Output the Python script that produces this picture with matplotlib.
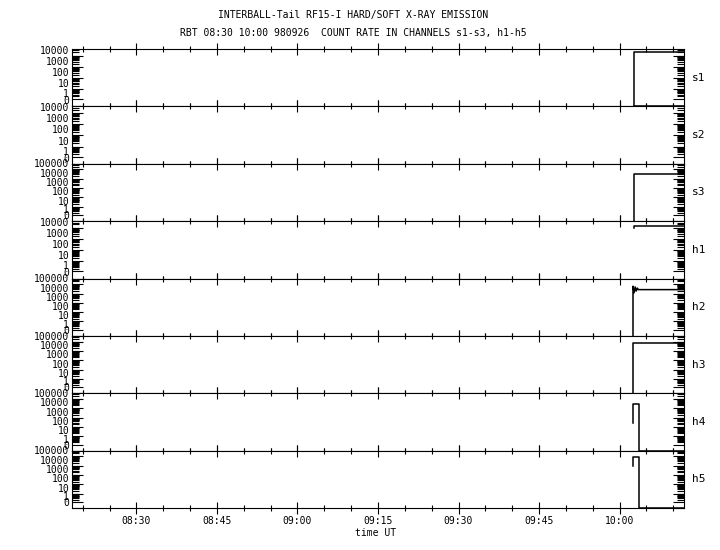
import numpy as np
import matplotlib
matplotlib.use("Agg")
import matplotlib.pyplot as plt
from matplotlib.ticker import FixedLocator, NullFormatter

# channel names and the highest labelled count of each panel
channels = ["s1", "s2", "s3", "h1", "h2", "h3", "h4", "h5"]
top_label = [10000, 10000, 100000, 10000, 100000, 100000, 100000, 100000]

# time in minutes after 00:00 UT, count rates
t_s1 = [602.7, 602.7, 612.0]
c_s1 = [0, 20000, 20000]
t_s1b = [602.7, 612.0]          # second trace, sits on zero
c_s1b = [0, 0]
t_s2 = []
c_s2 = []
t_s3 = [602.7, 602.7, 612.0]
c_s3 = [0, 34000, 34000]
t_h1 = [602.6, 602.6, 612.0]
c_h1 = [9000, 15000, 15000]
t_h2 = [602.5, 602.5, 602.7, 602.9, 603.1, 603.3, 603.5, 612.0]
c_h2 = [0, 60000, 12000, 50000, 18000, 38000, 26000, 26000]
t_h3 = [602.5, 602.5, 612.0]
c_h3 = [0, 70000, 70000]
t_h4 = [602.5, 602.5, 603.7, 603.7, 612.0]
c_h4 = [300, 26000, 26000, 0, 0]
t_h5 = [602.5, 602.5, 603.7, 603.7, 612.0]
c_h5 = [10000, 90000, 90000, 0, 0]

traces = {
    "s1": [(t_s1, c_s1), (t_s1b, c_s1b)],
    "s2": [(t_s2, c_s2)],
    "s3": [(t_s3, c_s3)],
    "h1": [(t_h1, c_h1)],
    "h2": [(t_h2, c_h2)],
    "h3": [(t_h3, c_h3)],
    "h4": [(t_h4, c_h4)],
    "h5": [(t_h5, c_h5)],
}

t_start, t_end = 498, 612
major_t = list(range(510, 601, 15))
minor_t = list(range(500, 612, 5))

plt.rcParams["font.family"] = "DejaVu Sans Mono"
plt.rcParams["font.size"] = 7


def fwd(x):
    return np.log10(np.maximum(np.asarray(x, dtype=float) + 0.3, 1e-6))


def inv(y):
    return 10 ** np.asarray(y, dtype=float) - 0.3


W, H = 720, 550
left, right = 72, 684
top, bottom = 49, 508
ph = (bottom - top) / len(channels)

fig = plt.figure(figsize=(W / 100, H / 100), dpi=100)

for i, ch in enumerate(channels):
    y0 = top + i * ph
    ax = fig.add_axes([left / W, 1 - (y0 + ph) / H, (right - left) / W, ph / H])
    ax.set_yscale("function", functions=(fwd, inv))
    for t, c in traces[ch]:
        if len(t):
            ax.plot(t, c, color="black", lw=1.1, clip_on=False)
    ymax = top_label[i]
    ax.set_xlim(t_start, t_end)
    ax.set_ylim(0, ymax * 4)

    # y ticks: 0, 1, 10, ... and log minors
    majors = [0] + [10 ** k for k in range(int(np.log10(ymax)) + 1)]
    minors = [m * 10 ** k for k in range(int(np.log10(ymax)) + 1) for m in range(2, 10)]
    minors = [m for m in minors if m < ymax * 4]
    ax.yaxis.set_major_locator(FixedLocator(majors))
    ax.yaxis.set_minor_locator(FixedLocator(minors))
    ax.set_yticklabels([str(v) for v in majors])
    ax.yaxis.set_minor_formatter(NullFormatter())
    for lbl in ax.get_yticklabels():
        lbl.set_verticalalignment("bottom")
    ax.tick_params(axis="y", which="both", direction="in", left=True, right=True, pad=2)
    ax.tick_params(axis="y", which="major", length=8, width=0.8)
    ax.tick_params(axis="y", which="minor", length=5, width=0.8)

    ax.xaxis.set_major_locator(FixedLocator(major_t))
    ax.xaxis.set_minor_locator(FixedLocator(minor_t))
    ax.tick_params(axis="x", which="both", direction="inout", top=True, bottom=True, pad=2)
    ax.tick_params(axis="x", which="major", length=8, width=0.8)
    ax.tick_params(axis="x", which="minor", length=4, width=0.8)
    if i == len(channels) - 1:
        ax.set_xticklabels([f"{m // 60:02d}:{m % 60:02d}" for m in major_t])
    else:
        ax.set_xticklabels([])
    for sp in ax.spines.values():
        sp.set_linewidth(0.8)

    fig.text(699 / W, 1 - (y0 + ph / 2) / H, ch, ha="center", va="center", fontsize=8)

fig.text(353 / W, 1 - 15 / H, "INTERBALL-Tail RF15-I HARD/SOFT X-RAY EMISSION",
         ha="center", va="center")
fig.text(353 / W, 1 - 33 / H, "RBT 08:30 10:00 980926  COUNT RATE IN CHANNELS s1-s3, h1-h5",
         ha="center", va="center")
fig.text(376 / W, 1 - 533 / H, "time UT", ha="center", va="center")

fig.savefig("out.png", dpi=100, facecolor="white")
